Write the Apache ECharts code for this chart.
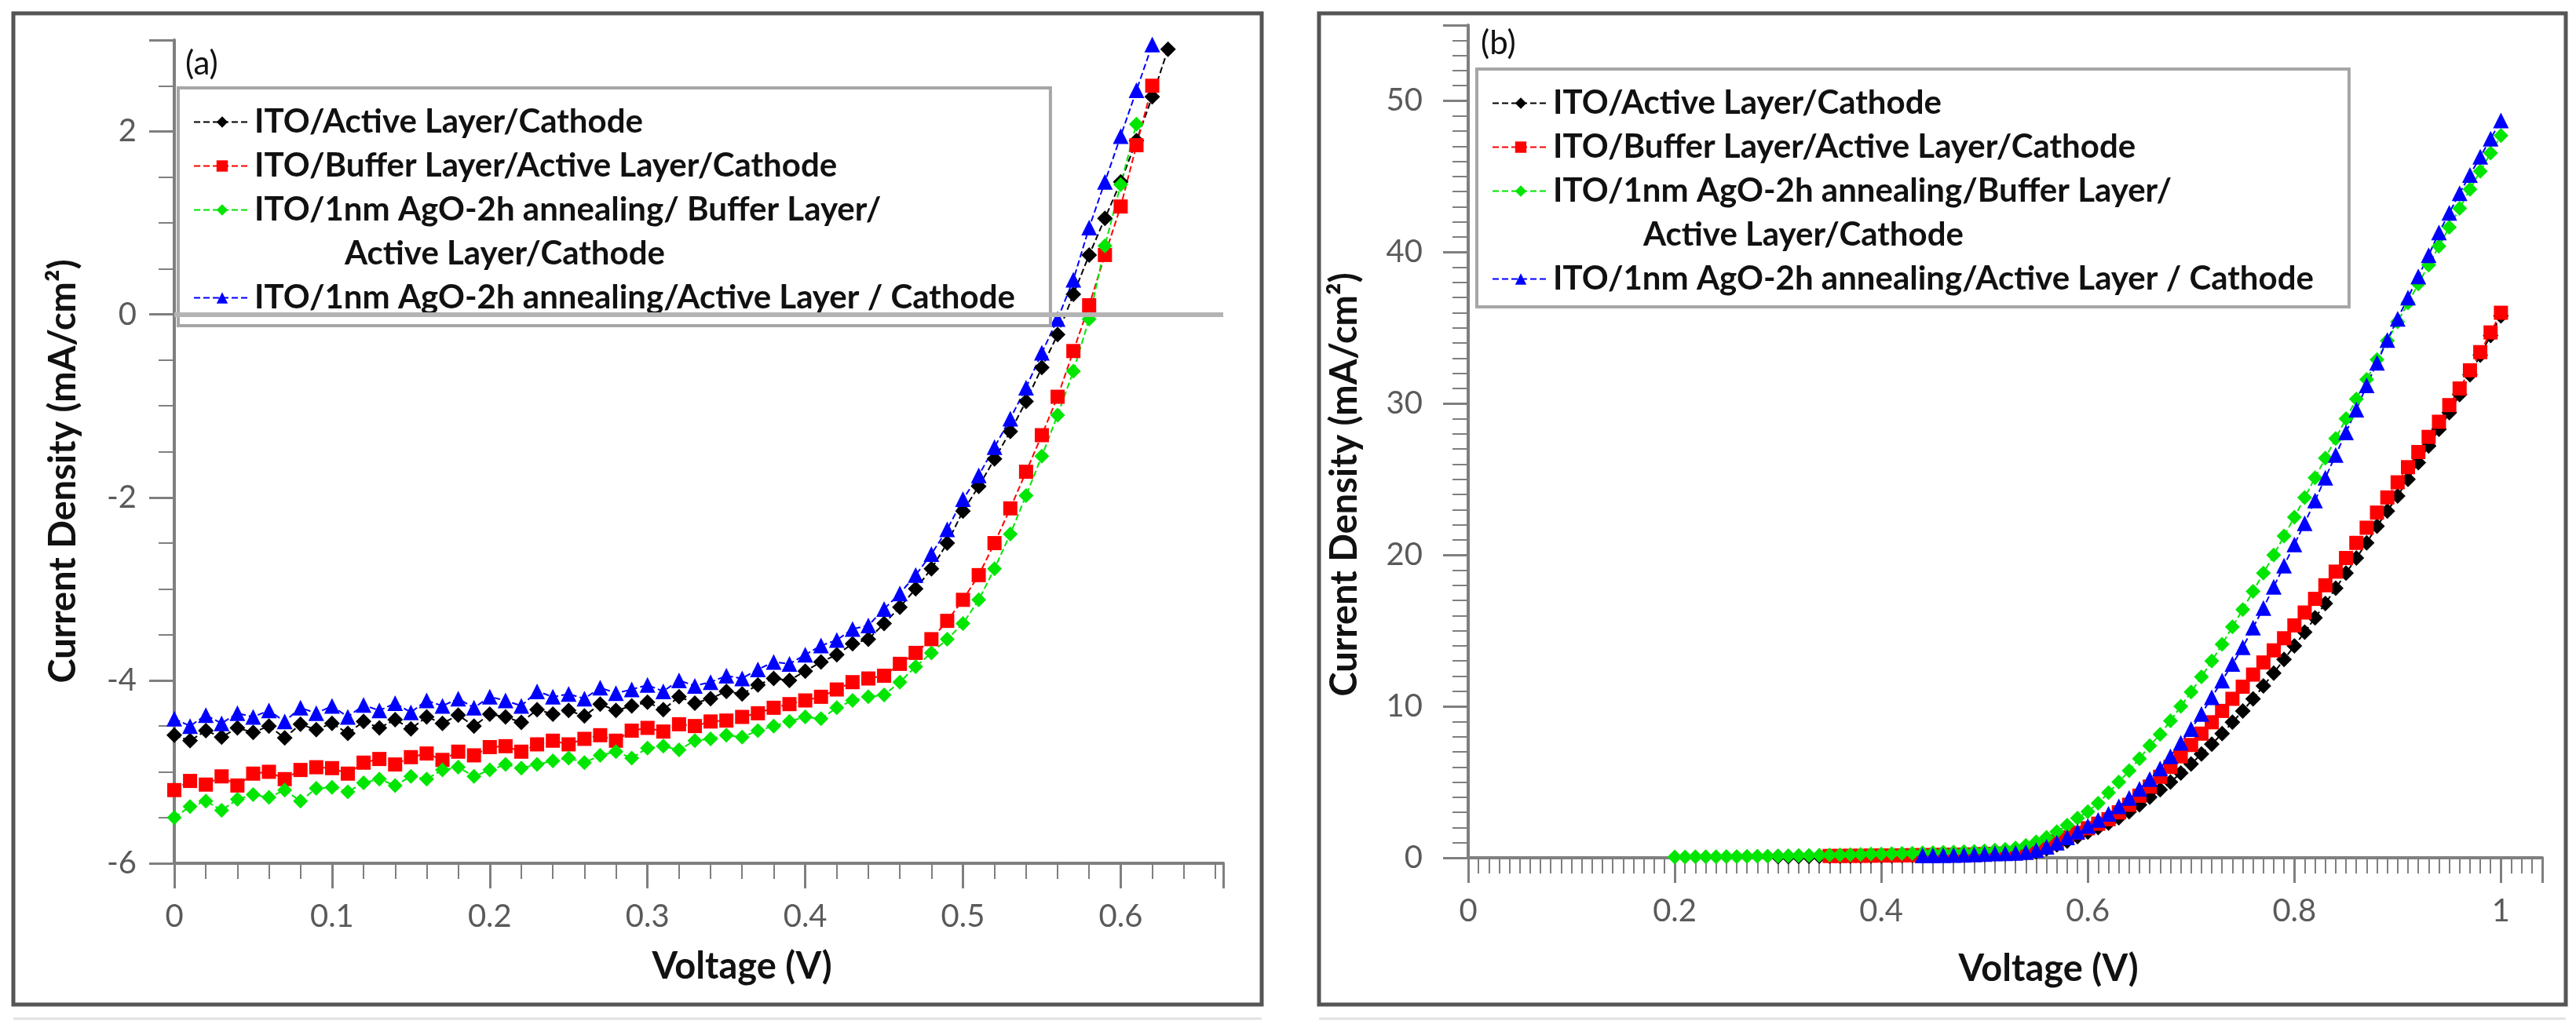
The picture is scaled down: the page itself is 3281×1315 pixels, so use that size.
<!DOCTYPE html>
<html>
<head>
<meta charset="utf-8">
<script src="https://cdn.jsdelivr.net/npm/echarts@6/dist/echarts.min.js"></script>
<style>
  html, body { margin: 0; padding: 0; background: #fff; }
  #chart { width: 3281px; height: 1315px; }
</style>
</head>
<body>
<div id="chart"></div>
<script>
// series names (shared by both panels)
var names = [
  'ITO/Active Layer/Cathode',
  'ITO/Buffer Layer/Active Layer/Cathode',
  'ITO/1nm AgO-2h annealing/Buffer Layer/Active Layer/Cathode',
  'ITO/1nm AgO-2h annealing/Active Layer / Cathode'
];

// panel (a): J-V under illumination, voltage steps
var voltA = [0,0.01,0.02,0.03,0.04,0.05,0.06,0.07,0.08,0.09,0.1,0.11,0.12,0.13,0.14,0.15,0.16,0.17,0.18,0.19,
  0.2,0.21,0.22,0.23,0.24,0.25,0.26,0.27,0.28,0.29,0.3,0.31,0.32,0.33,0.34,0.35,0.36,0.37,0.38,0.39,
  0.4,0.41,0.42,0.43,0.44,0.45,0.46,0.47,0.48,0.49,0.5,0.51,0.52,0.53,0.54,0.55,0.56,0.57,0.58,0.59,
  0.6,0.61,0.62,0.63];

var blackA = [-4.60,-4.66,-4.55,-4.62,-4.52,-4.57,-4.50,-4.63,-4.48,-4.54,-4.47,-4.58,-4.45,-4.52,-4.43,-4.53,-4.40,-4.47,-4.38,-4.50,
  -4.37,-4.40,-4.46,-4.32,-4.37,-4.33,-4.39,-4.26,-4.33,-4.28,-4.24,-4.32,-4.18,-4.25,-4.20,-4.12,-4.15,-4.05,-3.98,-4.00,
  -3.90,-3.80,-3.72,-3.60,-3.55,-3.38,-3.20,-3.00,-2.78,-2.50,-2.15,-1.88,-1.58,-1.28,-0.95,-0.58,-0.22,0.22,0.65,1.05,
  1.45,1.90,2.38,2.90];

var redA = [-5.20,-5.10,-5.14,-5.05,-5.15,-5.02,-5.00,-5.08,-4.98,-4.95,-4.96,-5.02,-4.90,-4.86,-4.92,-4.84,-4.80,-4.87,-4.78,-4.82,
  -4.73,-4.72,-4.78,-4.70,-4.66,-4.70,-4.64,-4.60,-4.66,-4.55,-4.52,-4.56,-4.48,-4.50,-4.45,-4.44,-4.40,-4.36,-4.30,-4.26,
  -4.22,-4.18,-4.10,-4.02,-3.98,-3.95,-3.82,-3.70,-3.55,-3.35,-3.12,-2.85,-2.50,-2.12,-1.72,-1.32,-0.90,-0.40,0.10,0.65,
  1.18,1.85,2.50];

var greenA = [-5.50,-5.38,-5.32,-5.42,-5.30,-5.25,-5.28,-5.20,-5.32,-5.18,-5.17,-5.22,-5.12,-5.08,-5.15,-5.05,-5.08,-4.98,-4.95,-5.05,
  -4.98,-4.92,-4.96,-4.92,-4.88,-4.85,-4.90,-4.82,-4.78,-4.85,-4.74,-4.72,-4.76,-4.66,-4.64,-4.60,-4.62,-4.55,-4.50,-4.45,
  -4.40,-4.42,-4.30,-4.22,-4.18,-4.16,-4.02,-3.85,-3.70,-3.55,-3.38,-3.12,-2.78,-2.40,-1.98,-1.55,-1.10,-0.62,-0.05,0.75,
  1.42,2.08];

var blueA = [-4.42,-4.50,-4.38,-4.47,-4.36,-4.40,-4.33,-4.45,-4.30,-4.36,-4.28,-4.40,-4.27,-4.33,-4.25,-4.35,-4.22,-4.28,-4.20,-4.30,
  -4.18,-4.22,-4.28,-4.12,-4.18,-4.15,-4.20,-4.08,-4.14,-4.10,-4.05,-4.12,-4.00,-4.06,-4.02,-3.95,-3.98,-3.88,-3.80,-3.82,
  -3.72,-3.62,-3.56,-3.44,-3.40,-3.22,-3.05,-2.85,-2.62,-2.35,-2.02,-1.76,-1.45,-1.14,-0.80,-0.42,-0.05,0.38,0.95,1.45,
  1.95,2.45,2.95];

// panel (b): dark J-V, voltage steps
var voltB = [0.2,0.21,0.22,0.23,0.24,0.25,0.26,0.27,0.28,0.29,0.3,0.31,0.32,0.33,0.34,0.35,0.36,0.37,0.38,0.39,
  0.4,0.41,0.42,0.43,0.44,0.45,0.46,0.47,0.48,0.49,0.5,0.51,0.52,0.53,0.54,0.55,0.56,0.57,0.58,0.59,
  0.6,0.61,0.62,0.63,0.64,0.65,0.66,0.67,0.68,0.69,0.7,0.71,0.72,0.73,0.74,0.75,0.76,0.77,0.78,0.79,
  0.8,0.81,0.82,0.83,0.84,0.85,0.86,0.87,0.88,0.89,0.9,0.91,0.92,0.93,0.94,0.95,0.96,0.97,0.98,0.99,1];

// black starts at 0.30
var blackB = [0.08,0.08,0.09,0.09,0.10,0.10,0.11,0.11,0.12,0.12,0.13,0.13,0.14,0.15,0.15,0.16,0.17,0.18,0.19,0.20,
  0.22,0.24,0.26,0.28,0.32,0.40,0.60,0.85,1.10,1.40,1.70,2.00,2.30,2.65,3.05,3.50,4.00,4.50,5.00,5.60,
  6.20,6.85,7.50,8.20,8.95,9.70,10.5,11.35,12.2,13.1,14.0,14.9,15.85,16.8,17.8,18.8,19.8,20.8,21.9,22.9,
  23.9,25.0,26.1,27.2,28.3,29.4,30.6,31.9,33.2,34.5,35.8];

// red starts at 0.35
var redB = [0.12,0.12,0.13,0.13,0.14,0.15,0.15,0.16,0.17,0.17,0.18,0.19,0.20,0.21,0.22,0.24,0.26,0.28,0.30,0.35,
  0.50,0.75,1.05,1.35,1.65,1.95,2.25,2.55,3.00,3.50,4.10,4.70,5.35,6.00,6.70,7.45,8.20,8.95,9.70,10.5,
  11.3,12.1,12.9,13.7,14.5,15.35,16.2,17.1,18.0,18.9,19.8,20.8,21.8,22.8,23.8,24.8,25.8,26.8,27.8,28.8,
  29.9,31.0,32.2,33.4,34.7,36.0];

// green starts at 0.20
var greenB = [0.05,0.05,0.06,0.06,0.07,0.08,0.08,0.09,0.10,0.11,0.12,0.13,0.14,0.15,0.17,0.18,0.20,0.21,0.22,0.24,
  0.25,0.27,0.28,0.30,0.32,0.34,0.36,0.38,0.40,0.42,0.45,0.50,0.56,0.65,0.82,1.05,1.35,1.72,2.15,2.62,
  3.05,3.60,4.30,5.00,5.75,6.55,7.40,8.15,9.05,10.0,10.95,11.95,13.0,14.1,15.25,16.4,17.6,18.8,20.0,21.25,
  22.5,23.8,25.1,26.4,27.7,29.0,30.3,31.6,32.9,34.15,35.4,36.65,37.9,39.15,40.4,41.65,42.9,44.15,45.35,46.55,
  47.7];

// blue starts at 0.44
var blueB = [0.15,0.16,0.17,0.18,0.20,0.22,0.25,0.28,0.30,0.33,0.37,0.50,0.72,1.00,1.35,1.72,2.10,2.50,2.90,3.40,
  3.95,4.55,5.20,5.90,6.70,7.60,8.50,9.50,10.6,11.7,12.8,13.9,15.2,16.5,17.9,19.3,20.7,22.1,23.6,25.1,
  26.6,28.1,29.6,31.2,32.7,34.2,35.6,37.0,38.4,39.8,41.3,42.6,43.9,45.1,46.3,47.5,48.7];

var startB = [10, 15, 0, 24];

var colors = ['#000000', '#ff0000', '#00e600', '#0000ff'];
var symbols = ['diamond', 'rect', 'diamond', 'triangle'];
var sizes = [20, 18, 19, 20];

function pairs(xs, ys, start) {
  return ys.map(function (y, i) { return [xs[start + i], y]; });
}

var seriesA = [blackA, redA, greenA, blueA];
var seriesB = [blackB, redB, greenB, blueB];

var series = [];
seriesA.forEach(function (ys, k) {
  var s = {
    name: names[k], type: 'line', xAxisIndex: 0, yAxisIndex: 0,
    data: pairs(voltA, ys, 0),
    symbol: symbols[k], symbolSize: sizes[k], showAllSymbol: true,
    itemStyle: { color: colors[k] },
    lineStyle: { color: colors[k], width: 2, type: 'dashed' }
  };
  if (k === 0) {
    s.markLine = {
      silent: true, symbol: 'none', label: { show: false },
      lineStyle: { color: '#b4b4b4', width: 6, type: 'solid' },
      data: [{ yAxis: 0 }]
    };
  }
  series.push(s);
});
seriesB.forEach(function (ys, k) {
  series.push({
    name: names[k], type: 'line', xAxisIndex: 1, yAxisIndex: 1,
    data: pairs(voltB, ys, startB[k]),
    symbol: symbols[k], symbolSize: sizes[k], showAllSymbol: true,
    itemStyle: { color: colors[k] },
    lineStyle: { color: colors[k], width: 2, type: 'dashed' }
  });
});
// second text line of the third legend entry
series.push({ name: 'Active Layer/Cathode', type: 'line', data: [] });

var font = 'Lato, "Open Sans", sans-serif';
var axisGray = '#7f7f7f';

function makeLegend(left, top, thirdText) {
  return {
    orient: 'vertical', left: left, top: top,
    backgroundColor: '#fff', borderColor: '#a6a6a6', borderWidth: 4,
    padding: [20, 45, 12, 19],
    itemWidth: 72, itemHeight: 18, itemGap: 9,
    textStyle: { fontFamily: font, fontSize: 42, fontWeight: 'bold', color: '#111', lineHeight: 47 },
    selectedMode: false,
    formatter: function (n) { return n === names[2] ? thirdText : n; },
    data: [names[0], names[1], names[2],
      { name: 'Active Layer/Cathode', icon: 'none', textStyle: { padding: [0, 0, 0, 115] } },
      names[3]]
  };
}

function xAxisCfg(grid, max, interval, minor, gap) {
  return {
    gridIndex: grid, type: 'value', min: 0, max: max, interval: interval,
    name: 'Voltage (V)', nameLocation: 'middle', nameGap: gap,
    nameTextStyle: { fontFamily: font, fontSize: 47, fontWeight: 'bold', color: '#111', padding: [0, 0, 0, 110] },
    axisLine: { onZero: false, lineStyle: { color: axisGray, width: 4 } },
    axisTick: { length: 32, lineStyle: { color: axisGray, width: 3 } },
    minorTick: { show: true, splitNumber: minor, length: 20, lineStyle: { color: axisGray, width: 2 } },
    axisLabel: { fontFamily: font, fontSize: 40, color: '#5a5a5a', margin: 48, showMaxLabel: false },
    splitLine: { show: false }
  };
}

function yAxisCfg(grid, min, max, interval, minor, gap, margin, pad) {
  return {
    gridIndex: grid, type: 'value', min: min, max: max, interval: interval,
    name: 'Current Density (mA/cm²)', nameLocation: 'middle', nameGap: gap,
    nameTextStyle: { fontFamily: font, fontSize: 47, fontWeight: 'bold', color: '#111', padding: pad },
    axisLine: { onZero: false, lineStyle: { color: axisGray, width: 4 } },
    axisTick: { length: 32, lineStyle: { color: axisGray, width: 3 } },
    minorTick: { show: true, splitNumber: minor, length: 20, lineStyle: { color: axisGray, width: 2 } },
    axisLabel: { fontFamily: font, fontSize: 40, color: '#5a5a5a', margin: margin, showMaxLabel: false },
    splitLine: { show: false }
  };
}

var chart = echarts.init(document.getElementById('chart'));
var option = {
  animation: false,
  backgroundColor: '#fff',
  grid: [
    { left: 222, top: 51, width: 1336, height: 1049 },
    { left: 1870, top: 32, width: 1368, height: 1061 }
  ],
  xAxis: [
    xAxisCfg(0, 0.665, 0.1, 5, 108),
    xAxisCfg(1, 1.04, 0.2, 20, 118)
  ],
  yAxis: [
    yAxisCfg(0, -6, 3, 2, 4, 118, 48, [0, 50, 0, 0]),
    yAxisCfg(1, 0, 55, 10, 10, 134, 58, [0, 110, 0, 0])
  ],
  legend: [
    makeLegend(227, 112, 'ITO/1nm AgO-2h annealing/ Buffer Layer/'),
    makeLegend(1881, 88, 'ITO/1nm AgO-2h annealing/Buffer Layer/')
  ],
  graphic: [
    { type: 'rect', shape: { x: 17, y: 17, width: 1590, height: 1263 }, style: { fill: 'none', stroke: '#555', lineWidth: 5 } },
    { type: 'rect', shape: { x: 1680, y: 17, width: 1588, height: 1263 }, style: { fill: 'none', stroke: '#555', lineWidth: 5 } },
    { type: 'line', shape: { x1: 17, y1: 1298, x2: 1607, y2: 1298 }, style: { stroke: '#e2e2e2', lineWidth: 3 } },
    { type: 'line', shape: { x1: 1680, y1: 1298, x2: 3268, y2: 1298 }, style: { stroke: '#e2e2e2', lineWidth: 3 } },
    { type: 'text', left: 236, top: 60, style: { text: '(a)', font: '42px Lato, sans-serif', fill: '#111' } },
    { type: 'text', left: 1886, top: 34, style: { text: '(b)', font: '42px Lato, sans-serif', fill: '#111' } }
  ],
  series: series
};
chart.setOption(option);
</script>
</body>
</html>
